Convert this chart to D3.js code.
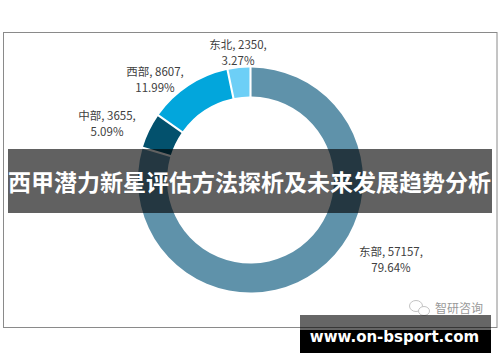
<!doctype html>
<html>
  <head>
    <meta charset="utf-8">
    <script src="https://cdnjs.cloudflare.com/ajax/libs/d3/7.8.5/d3.min.js"></script>
    <style>
      html, body { margin: 0; padding: 0; background: #fff; }
      svg { display: block; }
      text { font-family: "Noto Sans CJK SC", "Liberation Sans", sans-serif; }
    </style>
  </head>
  <body>
    <svg width="500" height="362"></svg>
    <script>
        var regions = ["东部", "中部", "西部", "东北"];
        var amounts = [57157, 3655, 8607, 2350];
        var shares = ["79.64%", "5.09%", "11.99%", "3.27%"];
        var colours = ["#5f92aa", "#03516d", "#02a6dc", "#6dcff6"];
        var title = "西甲潜力新星评估方法探析及未来发展趋势分析";
        var site = "www.on-bsport.com";
        var mark = "智研咨询";

        var svg = d3.select("svg");

        // frame round the chart
        svg.append("rect")
            .attr("x", 3.5).attr("y", 32.5)
            .attr("width", 493.5).attr("height", 295)
            .style("fill", "#fff").style("stroke", "#8a8a8a").style("stroke-width", "1px");

        var pie = d3.pie().sort(null).value(d => d);
        var arc = d3.arc().innerRadius(83.5).outerRadius(112.5).padAngle(0.015);
        var ring = svg.append("g").attr("transform", "translate(250.5,180)");

        ring.selectAll("path")
            .data(pie(amounts))
            .enter().append("path")
            .attr("d", arc)
            .style("fill", (d, i) => colours[i]);

        // label offsets from the ring centre, one per region
        var labelX = [140.5, -143.5, -95.5, -12.5];
        var labelY = [76, -60, -104, -131];
        var labels = ring.selectAll(".label")
            .data(regions)
            .enter().append("text")
            .attr("class", "label")
            .attr("text-anchor", "middle")
            .style("font-size", "11.5px")
            .style("fill", "#404040");
        labels.append("tspan")
            .attr("x", (d, i) => labelX[i]).attr("y", (d, i) => labelY[i])
            .text((d, i) => d + ", " + amounts[i] + ",");
        labels.append("tspan")
            .attr("x", (d, i) => labelX[i]).attr("y", (d, i) => labelY[i] + 16)
            .text((d, i) => shares[i]);

        // watermark: two speech bubbles and the name
        var bubbles = svg.append("g")
            .style("fill", "#fff").style("stroke", "#c4c4c4").style("stroke-width", "1px");
        bubbles.append("ellipse").attr("cx", 416).attr("cy", 306).attr("rx", 6.5).attr("ry", 5.5);
        bubbles.append("ellipse").attr("cx", 424).attr("cy", 311).attr("rx", 5.5).attr("ry", 4.5);
        svg.append("text")
            .attr("x", 435).attr("y", 313)
            .style("font-size", "12px").style("fill", "#999")
            .text(mark);

        // banner over the ring
        svg.append("rect")
            .attr("x", 8).attr("y", 149).attr("width", 484).attr("height", 64)
            .style("fill", "#000").style("opacity", 0.62);
        svg.append("text")
            .attr("x", 249.5).attr("y", 191)
            .attr("text-anchor", "middle")
            .style("font-size", "23px").style("font-weight", "700").style("fill", "#fff")
            .text(title);

        // site strip, its top part lets the frame line show through
        svg.append("rect")
            .attr("x", 300).attr("y", 330).attr("width", 191).attr("height", 23)
            .style("fill", "#000");
        svg.append("rect")
            .attr("x", 300).attr("y", 315).attr("width", 191).attr("height", 15)
            .style("fill", "#000").style("opacity", 0.6);
        svg.append("text")
            .attr("x", 394.5).attr("y", 342)
            .attr("text-anchor", "middle")
            .style("font-family", "'DejaVu Sans'")
            .style("font-size", "15px").style("font-weight", "700").style("fill", "#fff")
            .text(site);
    </script>
  </body>
</html>
